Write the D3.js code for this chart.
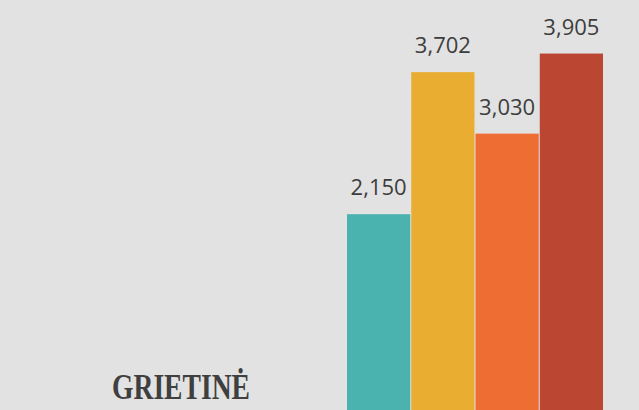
<!DOCTYPE html>
<html>
<head>
<meta charset="utf-8">
<script src="https://cdn.jsdelivr.net/npm/d3@7"></script>
<style>
  html, body { margin: 0; padding: 0; background: #e2e2e2; }
  svg { display: block; }
</style>
</head>
<body>
<div id="chart"></div>
<script>
// data
const categories = ["a", "b", "c", "d"];
const values = [2150, 3702, 3030, 3905];
const colors = ["#4bb3af", "#e9ae31", "#ed6d33", "#bb4733"];
const title = "GRIETINĖ";

const width = 639;
const height = 410;

const svg = d3.select("#chart")
  .append("svg")
  .attr("width", width)
  .attr("height", height);

svg.append("rect")
  .attr("width", width)
  .attr("height", height)
  .attr("fill", "#e2e2e2");

// scales
const x = d3.scaleBand()
  .domain(categories)
  .range([347, 603])
  .paddingInner(1 / 64)
  .paddingOuter(0);

const y = d3.scaleLinear()
  .domain([0, 4490])
  .range([411, 0]);

// bars
svg.selectAll(".bar")
  .data(values)
  .enter()
  .append("rect")
  .attr("class", "bar")
  .attr("x", (d, i) => x(categories[i]))
  .attr("y", d => y(d))
  .attr("width", x.bandwidth())
  .attr("height", d => y(0) - y(d))
  .attr("fill", (d, i) => colors[i]);

// value labels
svg.selectAll(".label")
  .data(values)
  .enter()
  .append("text")
  .attr("class", "label")
  .attr("x", (d, i) => x(categories[i]) + x.bandwidth() / 2)
  .attr("y", d => y(d) - 19)
  .attr("text-anchor", "middle")
  .attr("font-family", "'Open Sans', sans-serif")
  .attr("font-size", 22)
  .attr("fill", "#3d3d3d")
  .text(d => d3.format(",")(d));

// title
svg.append("text")
  .attr("x", 112)
  .attr("y", 399)
  .attr("font-family", "'Liberation Serif', serif")
  .attr("font-weight", "bold")
  .attr("font-size", 35)
  .attr("textLength", 138)
  .attr("lengthAdjust", "spacingAndGlyphs")
  .attr("fill", "#3f3f3f")
  .text(title);
</script>
</body>
</html>
